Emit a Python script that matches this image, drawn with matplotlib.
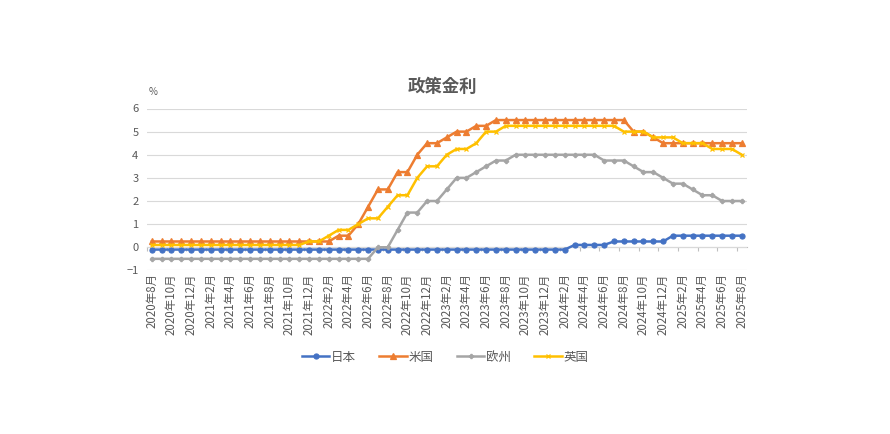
import matplotlib
matplotlib.use("Agg")
import matplotlib.pyplot as plt
import numpy as np

plt.rcParams['font.family'] = ['Noto Sans CJK JP', 'DejaVu Sans']

# months 2020/8 .. 2025/8
months = []
y, m = 2020, 8
for _ in range(61):
    months.append(f"{y}年{m}月")
    m += 1
    if m > 12:
        m = 1
        y += 1

japan = [-0.1] * 43 + [0.1] * 4 + [0.25] * 6 + [0.5] * 8
usa = ([0.25] * 19 + [0.5, 0.5, 1.0, 1.75, 2.5, 2.5, 3.25, 3.25, 4.0, 4.5, 4.5, 4.75,
       5.0, 5.0, 5.25, 5.25] + [5.5] * 14 + [5.0, 5.0, 4.75] + [4.5] * 9)
euro = ([-0.5] * 23 + [0.0, 0.0, 0.75, 1.5, 1.5, 2.0, 2.0, 2.5, 3.0, 3.0, 3.25, 3.5,
        3.75, 3.75] + [4.0] * 9 + [3.75, 3.75, 3.75, 3.5, 3.25, 3.25, 3.0, 2.75, 2.75,
        2.5, 2.25, 2.25, 2.0, 2.0, 2.0])
uk = ([0.1] * 16 + [0.25, 0.25, 0.5, 0.75, 0.75, 1.0, 1.25, 1.25, 1.75, 2.25, 2.25, 3.0,
      3.5, 3.5, 4.0, 4.25, 4.25, 4.5, 5.0, 5.0] + [5.25] * 12 + [5.0, 5.0, 5.0, 4.75,
      4.75, 4.75, 4.5, 4.5, 4.5, 4.25, 4.25, 4.25, 4.0])

series = [
    ("日本", japan, "#4472C4", "o", 3.6),
    ("米国", usa, "#ED7D31", "^", 3.8),
    ("欧州", euro, "#A5A5A5", "P", 3.0),
    ("英国", uk, "#FFC000", "x", 3.5),
]

fig = plt.figure(figsize=(8.9, 4.34), dpi=100)
ax = fig.add_axes([0.165, 0.377, 0.674, 0.373])
x = np.arange(len(months))
for name, vals, col, mk, ms in series:
    ax.plot(x, vals, color=col, lw=1.8, marker=mk, markersize=ms, label=name,
            markeredgewidth=0.9)

ax.set_xlim(-0.5, len(months) - 0.5)
ax.set_ylim(-1, 6)
ax.set_yticks(range(-1, 7))
ax.grid(axis='y', color='#d9d9d9', lw=0.8)
ax.set_axisbelow(True)
for s in ax.spines.values():
    s.set_visible(False)
ax.tick_params(axis='y', length=0, labelsize=8, labelcolor='#595959', pad=6)
ax.set_xticks(x[::2])
ax.set_xticklabels(months[::2], rotation=90, fontsize=8.3, color='#595959')
ax.tick_params(axis='x', length=0, pad=2)

sec = ax.secondary_xaxis(1 / 7)
sec.set_xticks(np.arange(-0.5, len(months), 2))
sec.set_xticklabels([])
sec.tick_params(axis='x', direction='out', length=3, color='#bfbfbf')
sec.spines['bottom'].set_color('#bfbfbf')
sec.spines['bottom'].set_linewidth(0.8)

fig.text(0.1665, 0.78, "%", fontsize=7, color='#595959')
fig.text(0.497, 0.80, "政策金利", fontsize=12.5, fontweight='bold', color='#595959',
         ha='center', va='center')

leg = fig.legend(loc='center', bbox_to_anchor=(0.5, 0.177), ncol=4, frameon=False,
                 fontsize=9, handlelength=2.2, columnspacing=1.9, handletextpad=0.1)
for t in leg.get_texts():
    t.set_color('#595959')

fig.savefig("out.png", dpi=100)
